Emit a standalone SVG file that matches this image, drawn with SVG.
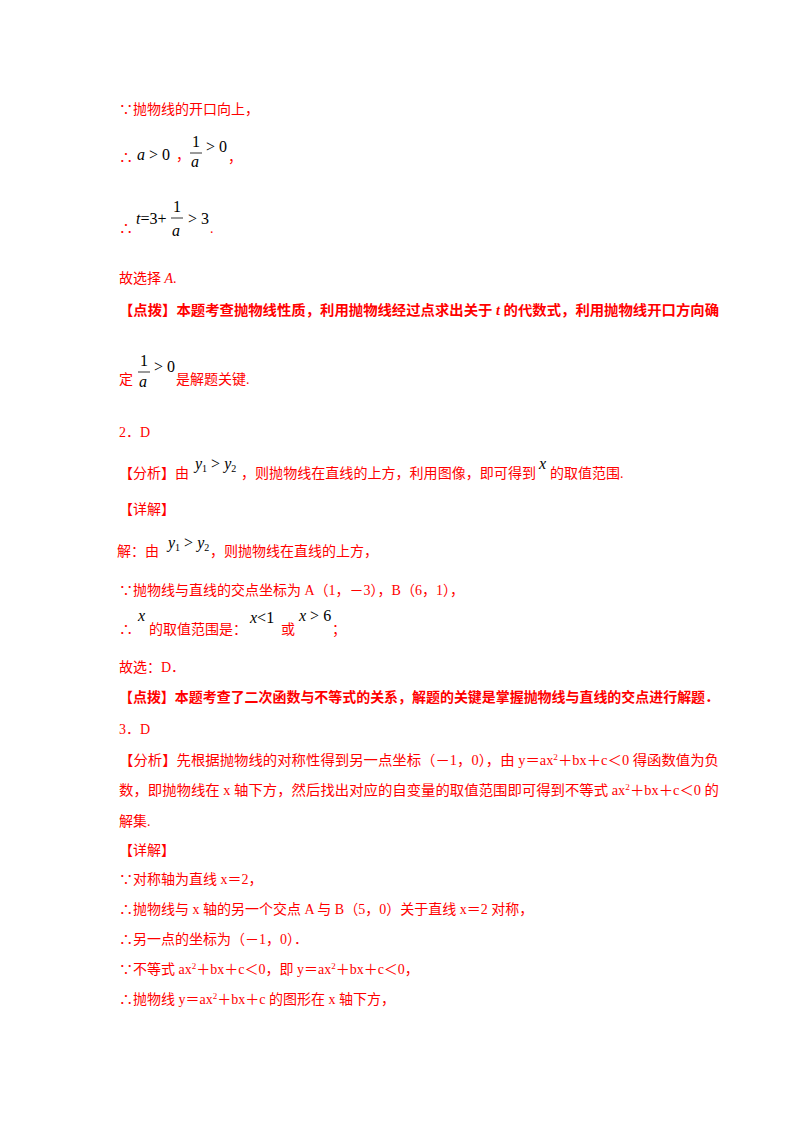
<svg xmlns="http://www.w3.org/2000/svg" width="800" height="1132" viewBox="0 0 800 1132">
<style>
text{font-family:"Liberation Serif","Noto Sans CJK SC",serif;font-size:14px}
.r{fill:#ff0000}
.b{fill:#000;font-size:16px}
.i{font-style:italic}
</style>
<rect width="800" height="1132" fill="#fff"/>
<g class="r">
<text class="r" x="119" y="114">∵抛物线的开口向上，</text>
<text class="r" x="119" y="162">∴</text>
<text class="b" x="137" y="160"><tspan class="i">a</tspan> &gt; 0</text>
<text class="r" x="176" y="160">，</text>
<text class="b" x="192" y="147">1</text>
<line x1="190" y1="153" x2="202" y2="153" stroke="#000" stroke-width="0.8"/>
<text class="b i" x="191" y="167">a</text>
<text class="b" x="206" y="152">&gt; 0</text>
<text class="r" x="228" y="162">，</text>
<text class="r" x="119" y="233">∴</text>
<text class="b" x="136" y="224"><tspan class="i">t</tspan>=3+</text>
<text class="b" x="173" y="212">1</text>
<line x1="171" y1="218" x2="183" y2="218" stroke="#000" stroke-width="0.8"/>
<text class="b i" x="172" y="236">a</text>
<text class="b" x="188" y="224">&gt; 3</text>
<text class="r" x="210" y="233">.</text>
<text class="r" x="119" y="283">故选择 <tspan font-style="italic">A</tspan>.</text>
<text class="r" x="119" y="315" font-weight="bold" textLength="600" lengthAdjust="spacingAndGlyphs">【点拨】本题考查抛物线性质，利用抛物线经过点求出关于 <tspan font-style="italic">t</tspan> 的代数式，利用抛物线开口方向确</text>
<text class="r" x="119" y="384">定</text>
<text class="b" x="140" y="366">1</text>
<line x1="138" y1="372" x2="150" y2="372" stroke="#000" stroke-width="0.8"/>
<text class="b i" x="139" y="387">a</text>
<text class="b" x="154" y="372">&gt; 0</text>
<text class="r" x="176" y="384">是解题关键.</text>
<text class="r" x="119" y="437">2．D</text>
<text class="r" x="119" y="478">【分析】由</text>
<text class="b" x="195" y="469"><tspan class="i">y</tspan><tspan font-size="10" dy="3">1</tspan><tspan dy="-3"> &gt; </tspan><tspan class="i">y</tspan><tspan font-size="10" dy="3">2</tspan></text>
<text class="r" x="241" y="478" textLength="295" lengthAdjust="spacingAndGlyphs">，则抛物线在直线的上方，利用图像，即可得到</text>
<text class="b i" x="539" y="469">x</text>
<text class="r" x="550" y="478">的取值范围.</text>
<text class="r" x="119" y="514">【详解】</text>
<text class="r" x="117" y="556">解：由</text>
<text class="b" x="168" y="548"><tspan class="i">y</tspan><tspan font-size="10" dy="3">1</tspan><tspan dy="-3"> &gt; </tspan><tspan class="i">y</tspan><tspan font-size="10" dy="3">2</tspan></text>
<text class="r" x="210" y="556">，则抛物线在直线的上方，</text>
<text class="r" x="119" y="595">∵抛物线与直线的交点坐标为 A（1，－3），B（6，1），</text>
<text class="r" x="119" y="634">∴</text>
<text class="b i" x="138" y="621">x</text>
<text class="r" x="149" y="634">的取值范围是：</text>
<text class="b" x="250" y="623"><tspan class="i">x</tspan>&lt;1</text>
<text class="r" x="281" y="634">或</text>
<text class="b" x="299" y="621"><tspan class="i">x</tspan> &gt; 6</text>
<text class="r" x="332" y="634">；</text>
<text class="r" x="119" y="672">故选：D．</text>
<text class="r" x="119" y="702" font-weight="bold" textLength="600" lengthAdjust="spacingAndGlyphs">【点拨】本题考查了二次函数与不等式的关系，解题的关键是掌握抛物线与直线的交点进行解题．</text>
<text class="r" x="119" y="734">3．D</text>
<text class="r" x="119" y="765" textLength="600" lengthAdjust="spacingAndGlyphs">【分析】先根据抛物线的对称性得到另一点坐标（－1，0），由 y＝ax<tspan font-size="9" dy="-5">2</tspan><tspan dy="5">＋bx＋c＜0 得函数值为负</tspan></text>
<text class="r" x="119" y="795" textLength="600" lengthAdjust="spacingAndGlyphs">数，即抛物线在 x 轴下方，然后找出对应的自变量的取值范围即可得到不等式 ax<tspan font-size="9" dy="-5">2</tspan><tspan dy="5">＋bx＋c＜0 的</tspan></text>
<text class="r" x="119" y="826">解集.</text>
<text class="r" x="119" y="855">【详解】</text>
<text class="r" x="119" y="884">∵对称轴为直线 x＝2，</text>
<text class="r" x="119" y="914">∴抛物线与 x 轴的另一个交点 A 与 B（5，0）关于直线 x＝2 对称，</text>
<text class="r" x="119" y="944">∴另一点的坐标为（－1，0）．</text>
<text class="r" x="119" y="974">∵不等式 ax<tspan font-size="9" dy="-5">2</tspan><tspan dy="5">＋bx＋c＜0，即 y＝ax</tspan><tspan font-size="9" dy="-5">2</tspan><tspan dy="5">＋bx＋c＜0，</tspan></text>
<text class="r" x="119" y="1004">∴抛物线 y＝ax<tspan font-size="9" dy="-5">2</tspan><tspan dy="5">＋bx＋c 的图形在 x 轴下方，</tspan></text>
</g>
</svg>
